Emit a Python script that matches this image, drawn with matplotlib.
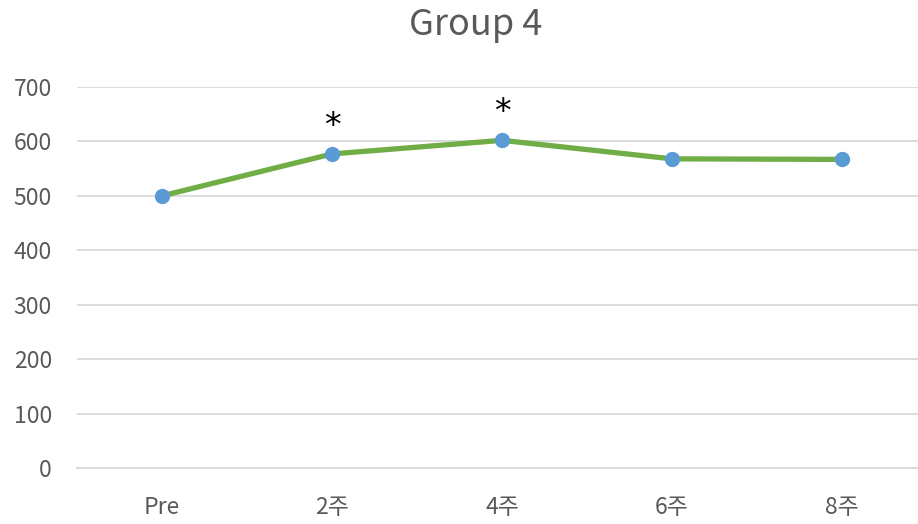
import matplotlib
matplotlib.use("Agg")
import matplotlib.pyplot as plt

plt.rcParams['font.family'] = ['Noto Sans CJK KR', 'DejaVu Sans']

categories = ["Pre", "2주", "4주", "6주", "8주"]
values = [500, 577, 602, 568, 567]
significant = [False, True, True, False, False]
yticks = [0, 100, 200, 300, 400, 500, 600, 700]
title = "Group 4"

text_color = "#595959"
grid_color = "#D9D9D9"
line_color = "#70AD47"
marker_color = "#5B9BD5"

W, H = 918, 524
fig = plt.figure(figsize=(W / 100, H / 100), dpi=100)
ax = fig.add_axes([77 / W, (H - 468) / H, 850 / W, (468 - 87) / H])

x = list(range(len(categories)))
ax.plot(x, values, color=line_color, linewidth=3.8, solid_capstyle="round",
        marker="o", markersize=10, markerfacecolor=marker_color,
        markeredgecolor=marker_color, zorder=3)

for xi, v, sig in zip(x, values, significant):
    if sig:
        ax.text(xi, v + 20, "*", ha="center", va="bottom", fontsize=24,
                color="black", family=["DejaVu Sans"])

ax.set_xlim(-0.5, len(categories) - 0.5)
ax.set_ylim(0, 700)
ax.set_yticks(yticks)
ax.set_yticklabels([str(t) for t in yticks])
ax.set_xticks(x)
ax.set_xticklabels(categories)

ax.yaxis.grid(True, color=grid_color, linewidth=1.3)
ax.set_axisbelow(True)
for s in ["top", "right", "left"]:
    ax.spines[s].set_visible(False)
ax.spines["bottom"].set_color(grid_color)
ax.spines["bottom"].set_linewidth(1.3)

ax.tick_params(axis="both", length=0, labelsize=16.5, colors=text_color)
ax.tick_params(axis="y", pad=18)
ax.tick_params(axis="x", pad=20)

fig.text(476 / W, 1 - 25 / H, title, ha="center", va="center",
         fontsize=26, color=text_color)

fig.savefig("out.png", dpi=100)
